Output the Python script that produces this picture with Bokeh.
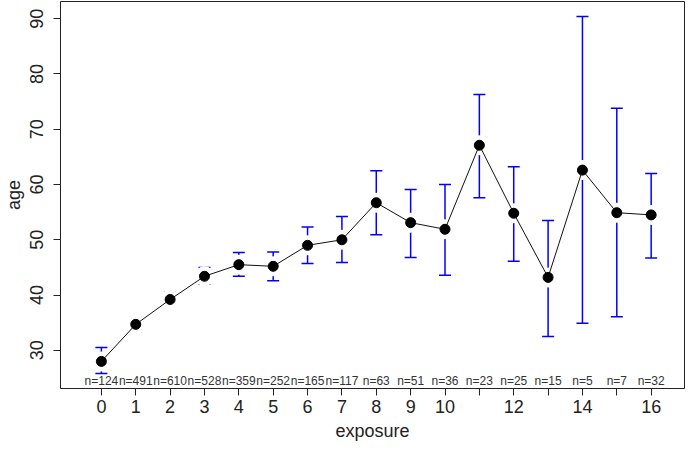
from bokeh.plotting import figure
from bokeh.models import ColumnDataSource, Whisker, TeeHead, FixedTicker, Range1d
from bokeh.core.properties import value
from bokeh.embed import file_html
from bokeh.resources import INLINE

# ---- data ----
exposure = [0, 1, 2, 3, 4, 5, 6, 7, 8, 9, 10, 11, 12, 13, 14, 15, 16]
mean_age = [28.0, 34.7, 39.2, 43.4, 45.5, 45.2, 49.0, 50.0, 56.7, 53.1, 51.9,
            67.1, 54.8, 43.2, 62.6, 54.9, 54.5]
lower_ci = [25.8, 33.4, 38.0, 42.0, 43.4, 42.6, 45.7, 45.9, 50.9, 46.8, 43.6,
            57.6, 46.1, 32.5, 34.9, 36.1, 46.7]
upper_ci = [30.5, 36.0, 40.5, 45.0, 47.7, 47.8, 52.3, 54.2, 62.5, 59.1, 60.0,
            76.3, 63.2, 53.5, 90.4, 73.8, 62.0]
n_obs = [124, 491, 610, 528, 359, 252, 165, 117, 63, 51, 36, 23, 25, 15, 5, 7, 32]
x_ticks = list(range(0, 17))
x_tick_hidden = [11, 13, 15]
y_ticks = [30, 40, 50, 60, 70, 80, 90]

FONT = "Liberation Sans"

y_lo, y_hi = 23.1, 93.1
src = ColumnDataSource(dict(
    x=exposure, y=mean_age, lower=lower_ci, upper=upper_ci,
    lab=["n=%d" % n for n in n_obs],
    ly=[y_lo + 1.3] * len(exposure),
))

p = figure(width=685, height=443, output_backend="svg", toolbar_location=None,
           x_range=Range1d(-1.19, 16.97), y_range=Range1d(y_lo, y_hi),
           min_border_left=59, min_border_right=1, min_border_top=1,
           min_border_bottom=55)
p.grid.visible = False
p.outline_line_color = "#222222"
p.outline_line_width = 1
p.background_fill_color = "white"
p.border_fill_color = "white"

# error bars
head_kw = dict(size=12, line_color="blue", line_width=1.5)
w = Whisker(source=src, base="x", upper="upper", lower="lower",
            dimension="height", line_color="blue", line_width=1.5,
            upper_head=TeeHead(**head_kw), lower_head=TeeHead(**head_kw))
p.add_layout(w)

# white gaps around points, connecting line, points
p.scatter("x", "y", source=src, size=20, fill_color="white", line_color=None)
p.line("x", "y", source=src, line_color="#111111", line_width=1)
p.scatter("x", "y", source=src, size=10, fill_color="black", line_color="black")

# n labels
p.text("x", "ly", text="lab", source=src, text_align="center",
       text_baseline="middle", text_font=value(FONT), text_font_size="12px",
       text_color="#333333")

# axes
for ax in (p.xaxis[0], p.yaxis[0]):
    ax.axis_line_color = None
    ax.major_tick_in = 0
    ax.major_tick_out = 7
    ax.major_tick_line_color = "#222222"
    ax.minor_tick_line_color = None
    ax.major_label_text_font = FONT
    ax.major_label_text_font_size = "18px"
    ax.major_label_text_color = "#222222"
    ax.axis_label_text_font = FONT
    ax.axis_label_text_font_size = "18px"
    ax.axis_label_text_font_style = "normal"
    ax.axis_label_text_color = "#222222"

p.xaxis.ticker = FixedTicker(ticks=x_ticks)
p.xaxis.major_label_overrides = {t: "" for t in x_tick_hidden}
p.xaxis.axis_label = "exposure"
p.xaxis.major_label_standoff = 4
p.xaxis.axis_label_standoff = 5

p.yaxis.ticker = FixedTicker(ticks=y_ticks)
p.yaxis.axis_label = "age"
p.yaxis.major_label_orientation = "vertical"
p.yaxis.major_label_standoff = 10
p.yaxis.axis_label_standoff = 4

open("out.html", "w").write(file_html(p, INLINE))
